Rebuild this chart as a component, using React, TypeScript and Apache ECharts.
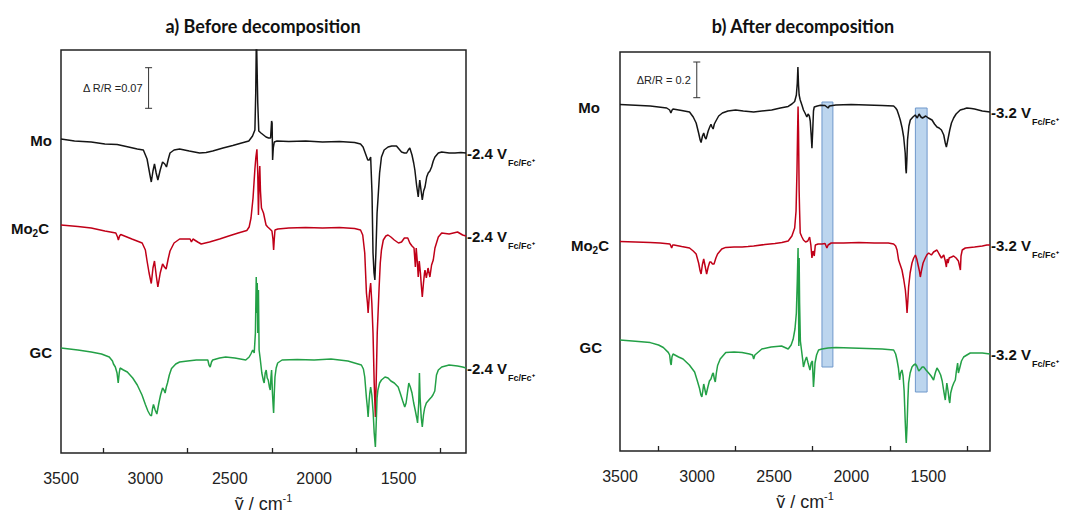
import React, { useEffect, useRef } from "react";
import * as echarts from "echarts";

// ---------- axis ticks ----------
const xLabelValues = [3500, 3000, 2500, 2000, 1500];
const xTickValues = [3250, 2750, 2250, 1750, 1250];
const xMin = 1100;
const xMax = 3500;

// ---------- traces: [wavenumber cm-1, signal (a.u., offset stacked)] ----------
const leftMo: number[][] = [[3500,314],[3420,312],[3321,311],[3240,309],[3167,308.5],[3100,306],[3048,304],[3012,303],[2990,294],[2975,280],[2965,271],[2955,282],[2946,289],[2936,280],[2926,273],[2912,283],[2898,291],[2885,289],[2875,286],[2864,294],[2854,300],[2830,303],[2797,304],[2740,302],[2679,300],[2640,300.5],[2601,302],[2540,305],[2482,307.5],[2430,310],[2387,312],[2365,317],[2351,323],[2346,360],[2342,420],[2338,420],[2334,350],[2328,322],[2315,320],[2300,318],[2285,316],[2270,315],[2258,315],[2252,332],[2249,330],[2246,293],[2242,305],[2236,311],[2220,312],[2150,311.5],[2050,312],[1950,311],[1850,311.5],[1760,310.5],[1725,309],[1710,306],[1695,299],[1682,293],[1673,293],[1665,296],[1657,260],[1651,200],[1645,180],[1640,173],[1634,200],[1627,240],[1622,253],[1612,280],[1601,296],[1585,303],[1562,306],[1540,307],[1512,307],[1497,304],[1482,301],[1465,300],[1452,300],[1442,303],[1433,305],[1420,298],[1410,290],[1403,283],[1393,268],[1383,256],[1378,266],[1374,273],[1366,262],[1359,253],[1351,262],[1343,266],[1333,276],[1324,280],[1314,282],[1304,286],[1294,292],[1284,296],[1264,300],[1244,301],[1200,300],[1165,300],[1130,300.5],[1100,300]];

const leftMo2C: number[][] = [[3500,228],[3400,226.5],[3321,225],[3240,222],[3175,220],[3165,216],[3160,213],[3153,217],[3146,218.5],[3080,214],[3019,210],[3000,203],[2990,192],[2978,180],[2965,169.5],[2955,185],[2946,192],[2936,178],[2926,166],[2912,180],[2898,189],[2887,186],[2877,184],[2865,194],[2854,202],[2830,210],[2797,214],[2760,214],[2735,214],[2727,211],[2718,214],[2690,211],[2669,209],[2645,210],[2620,211],[2560,214],[2506,217],[2450,220],[2399,222.5],[2385,226],[2374,235],[2362,255],[2351,284],[2345,296],[2339,303.6],[2334,280],[2330,238],[2326,270],[2322,287],[2318,262],[2312,245],[2300,240],[2285,228],[2275,226],[2262,224],[2250,222],[2244,214],[2240,203],[2236,214],[2232,223],[2215,224],[2150,225],[2050,225.5],[1950,225],[1850,225.5],[1760,224.5],[1725,223],[1712,218],[1700,200],[1690,160],[1684,150],[1680,140],[1672,160],[1665,170],[1658,150],[1651,120],[1644,70],[1637,36],[1631,80],[1626,120],[1622,136],[1615,165],[1608,190],[1601,203],[1590,213],[1575,217],[1562,218],[1545,216],[1525,213],[1500,210],[1482,211],[1465,215],[1445,215],[1433,210],[1420,207],[1408,205],[1400,186],[1395,205],[1388,190],[1383,176],[1377,192],[1370,180],[1365,168],[1359,156],[1352,170],[1346,180],[1343,183],[1335,175],[1325,185],[1314,176],[1304,188],[1294,193],[1284,205],[1264,216],[1244,220],[1200,219],[1150,221],[1120,218],[1100,217]];

const leftGC: number[][] = [[3500,105],[3400,103],[3321,101],[3260,99],[3214,96],[3195,92],[3189,89],[3178,86],[3168,80],[3161,70],[3155,80],[3150,85],[3130,83],[3107,81],[3075,75],[3048,68],[3020,58],[3000,48.5],[2985,42],[2972,38],[2964,37],[2958,44],[2952,48.5],[2942,43],[2932,39],[2920,50],[2910,58],[2898,65],[2890,63],[2883,60],[2876,66],[2869,70],[2858,78],[2845,84.5],[2820,89],[2797,91],[2750,92],[2698,93],[2660,93],[2630,93],[2623,88],[2616,86],[2608,91],[2601,93],[2560,95],[2524,96],[2470,95],[2405,93],[2385,96],[2375,99],[2364,103],[2355,100],[2348,120],[2343,176],[2340,140],[2337,170],[2334,120],[2330,163],[2326,103],[2320,95],[2310,80],[2300,72],[2296,70],[2290,80],[2284,83],[2278,75],[2272,73],[2265,66],[2260,63],[2256,75],[2252,83],[2247,60],[2242,45],[2240,40],[2236,60],[2232,76],[2225,85],[2216,90],[2190,93],[2100,93.5],[2000,93],[1900,94],[1800,92],[1760,90],[1720,88],[1708,84],[1700,76],[1690,55],[1684,45],[1680,36],[1674,52],[1670,60],[1665,66],[1658,58],[1650,40],[1644,20],[1637,6],[1632,30],[1627,55],[1622,63],[1612,70],[1601,73],[1580,76],[1562,75],[1545,72],[1525,70],[1502,66],[1490,60],[1475,52],[1463,46],[1455,50],[1447,60],[1439,70],[1430,66],[1420,60],[1410,50],[1400,42],[1392,35],[1387,30],[1380,50],[1376,80],[1372,55],[1365,35],[1359,26],[1352,38],[1345,45],[1335,50],[1325,52],[1315,54],[1304,56],[1296,58],[1285,62],[1275,78],[1264,83],[1244,86],[1200,88],[1150,87],[1120,86],[1100,85]];

const rightMo: number[][] = [[3500,346.6],[3400,345.8],[3304,345],[3250,344],[3197,343],[3178,341],[3170,338],[3162,341],[3156,342],[3100,340.5],[3049,339],[3025,334],[3006,328],[2990,318],[2980,311],[2974,308.5],[2965,315],[2957,318],[2950,314],[2942,312],[2928,320],[2918,324],[2910,326.6],[2903,324],[2896,322],[2888,327],[2878,330],[2860,335],[2836,338],[2800,340],[2750,341],[2700,340],[2633,339],[2580,340],[2516,341],[2460,343],[2409,344.6],[2385,347],[2367,349.5],[2356,356],[2350,368],[2346,384],[2342,366],[2338,356],[2331,351],[2320,346],[2310,341],[2300,338],[2288,334],[2280,337],[2272,335],[2266,330],[2260,316],[2255,302.7],[2250,320],[2245,340],[2240,344],[2220,345],[2200,345.7],[2170,345.5],[2158,344],[2150,343],[2142,345],[2100,346],[2000,346.5],[1900,346],[1800,345.5],[1725,345],[1712,343],[1703,341],[1692,336],[1682,331],[1670,323],[1660,314],[1650,298],[1646,282],[1643,277.7],[1639,292],[1635,311],[1626,325],[1617,331],[1600,334],[1585,336],[1572,333],[1560,337],[1548,334],[1538,333],[1527,334],[1517,335],[1500,333],[1476,331],[1460,327],[1444,324],[1430,323],[1415,321],[1400,316],[1390,308],[1383,304],[1375,310],[1361,321],[1350,328],[1336,333],[1320,337],[1293,341],[1270,342],[1250,343],[1220,342.5],[1200,342],[1150,340],[1100,339]];

const rightMo2C: number[][] = [[3500,209.5],[3400,209],[3304,208.5],[3240,208],[3176,207],[3170,205],[3165,203],[3158,206],[3150,206],[3100,204.5],[3049,203],[3025,200],[3006,197],[2990,188],[2980,180],[2974,177],[2966,186],[2957,192],[2948,185],[2938,177],[2928,184],[2918,189],[2910,189],[2900,187],[2890,187],[2878,193],[2867,197],[2840,202],[2814,203.6],[2760,204],[2708,204],[2670,204.5],[2633,205],[2560,206.5],[2495,207.5],[2450,208.5],[2409,210],[2385,215],[2367,223],[2358,240],[2352,280],[2348,320],[2345,344.6],[2342,320],[2338,260],[2335,240],[2331,218],[2320,214],[2310,211],[2296,209],[2282,210],[2270,214],[2262,206],[2255,193],[2248,200],[2240,195],[2233,206],[2215,207],[2190,207],[2170,207.5],[2158,203],[2150,206],[2130,208],[2050,208],[1950,208.5],[1850,208],[1760,208],[1725,207],[1712,205],[1703,201],[1693,191],[1682,186],[1671,181],[1660,172],[1649,161],[1643,150],[1638,138],[1633,150],[1628,164],[1618,178],[1606,188],[1595,193],[1584,196],[1575,192],[1565,185],[1558,180],[1552,174],[1545,180],[1534,188],[1520,193],[1510,196],[1498,198],[1480,196],[1466,199],[1444,201],[1430,197],[1415,193],[1400,196],[1390,190],[1383,184],[1378,192],[1372,188],[1365,193],[1350,194],[1336,195],[1320,193],[1305,190],[1296,184],[1292,181],[1288,195],[1280,201],[1260,203],[1230,203.5],[1200,204],[1150,205],[1120,206],[1100,206]];

const rightGC: number[][] = [[3500,111],[3400,109.8],[3304,108.4],[3250,106],[3219,103.5],[3187,98.6],[3178,96],[3172,88],[3168,86],[3163,94],[3156,97],[3120,94],[3091,92],[3050,86],[3016,79],[3000,71],[2984,62.5],[2975,56],[2969,54],[2963,60],[2957,67],[2950,62],[2942,56],[2930,64],[2920,70],[2910,72],[2900,77],[2895,78],[2888,72],[2882,69],[2875,78],[2867,85.5],[2850,92],[2814,98.6],[2760,99],[2708,98.6],[2660,97],[2640,96],[2633,92],[2625,96],[2580,102],[2520,104],[2452,105],[2409,102],[2390,106],[2377,111.7],[2365,122],[2356,138],[2350,170],[2345,203],[2342,150],[2340,105],[2338,193],[2335,148],[2330,110],[2322,100],[2314,90],[2310,84],[2300,90],[2290,94],[2280,88],[2268,81],[2260,88],[2252,90],[2248,75],[2245,64],[2240,75],[2235,88],[2225,96],[2212,101],[2190,102],[2150,103],[2100,103.5],[2000,103],[1900,102.5],[1800,102],[1725,101],[1712,97],[1703,91],[1694,83],[1686,71],[1680,78],[1671,81],[1664,75],[1657,60],[1650,30],[1645,12],[1643,8],[1638,25],[1633,50],[1628,68],[1618,78],[1606,84],[1595,86],[1584,87],[1575,85],[1562,80],[1550,82],[1540,84],[1530,84],[1515,81],[1498,78],[1482,75],[1466,71],[1455,78],[1444,83],[1432,80],[1420,76],[1410,70],[1400,60],[1390,51],[1385,60],[1380,68],[1372,60],[1366,52],[1361,48],[1355,58],[1345,64],[1335,68],[1325,71],[1318,80],[1310,88],[1305,78],[1298,82],[1285,90],[1271,94],[1250,96],[1228,98],[1200,98],[1150,98],[1100,97]];

// scale bars: [x, top, bottom]
const leftScaleBar = [[2981, 385.3, 344.7]];
const leftScaleText = "\u0394 R/R =0.07";
const rightScaleBar = [[3002, 389, 353.3]];
const rightScaleText = "\u0394R/R = 0.2";

// highlighted regions (right panel): [xFrom, yLow, xTo, yHigh]
const highlightBands = [[2190, 84, 2119, 349], [1584, 59, 1508, 343]];

const leftPotential = "-2.4 V";
const rightPotential = "-3.2 V";
const titles = ["a) Before decomposition", "b) After decomposition"];

const BLACK = "#151515";
const RED = "#c00018";
const GREEN = "#23a046";
const FONT = "Liberation Sans";
const TITLE_FONT = "Lato";

function potentialLabelPoint(trace: number[][], text: string) {
  const last = trace[trace.length - 1];
  return {
    symbol: "circle",
    symbolSize: 0,
    silent: true,
    itemStyle: { color: "rgba(0,0,0,0)" },
    label: {
      show: true,
      position: "right",
      distance: 1,
      formatter: `{v|${text}}{s|Fc/Fc\u207A}`,
      rich: {
        v: { fontSize: 15, fontWeight: "bold", fontFamily: FONT, color: "#111" },
        s: { fontSize: 9, fontWeight: "bold", fontFamily: FONT, color: "#111", padding: [20, 0, 0, 1] },
      },
    },
    data: [{ coord: [last[0], last[1]] }],
  };
}

function traceSeries(trace: number[][], color: string, idx: number, potential: string) {
  return {
    type: "line",
    xAxisIndex: idx,
    yAxisIndex: idx,
    data: trace,
    showSymbol: false,
    symbol: "none",
    clip: true,
    z: 3,
    silent: true,
    lineStyle: { color, width: 1.5 },
    markPoint: potentialLabelPoint(trace, potential),
  };
}

function scaleBarSeries(data: number[][], text: string, idx: number) {
  return {
    type: "custom",
    xAxisIndex: idx,
    yAxisIndex: idx,
    data,
    silent: true,
    z: 4,
    encode: { x: 0, y: [1, 2] },
    renderItem: (params: any, api: any) => {
      const top = api.coord([api.value(0), api.value(1)]);
      const bot = api.coord([api.value(0), api.value(2)]);
      const st = { stroke: "#333", lineWidth: 1 };
      return {
        type: "group",
        children: [
          { type: "line", shape: { x1: top[0], y1: top[1], x2: bot[0], y2: bot[1] }, style: st },
          { type: "line", shape: { x1: top[0] - 3.5, y1: top[1], x2: top[0] + 3.5, y2: top[1] }, style: st },
          { type: "line", shape: { x1: bot[0] - 3.5, y1: bot[1], x2: bot[0] + 3.5, y2: bot[1] }, style: st },
          {
            type: "text",
            x: top[0] - 6,
            y: (top[1] + bot[1]) / 2,
            style: { text, align: "right", verticalAlign: "middle", fontSize: 11, fontFamily: FONT, fill: "#222" },
          },
        ],
      };
    },
  };
}

function bandSeries() {
  return {
    type: "custom",
    xAxisIndex: 1,
    yAxisIndex: 1,
    data: highlightBands,
    silent: true,
    z: 1,
    encode: { x: [0, 2], y: [1, 3] },
    renderItem: (params: any, api: any) => {
      const p1 = api.coord([api.value(0), api.value(3)]);
      const p2 = api.coord([api.value(2), api.value(1)]);
      return {
        type: "rect",
        shape: { x: Math.min(p1[0], p2[0]), y: Math.min(p1[1], p2[1]), width: Math.abs(p2[0] - p1[0]), height: Math.abs(p2[1] - p1[1]) },
        style: { fill: "#bcd5ee", stroke: "#6f98cb", lineWidth: 1 },
      };
    },
  };
}

function xAxisDef(idx: number) {
  return {
    gridIndex: idx,
    type: "value",
    min: xMin,
    max: xMax,
    inverse: true,
    axisLine: { show: false },
    splitLine: { show: false },
    axisTick: { show: true, inside: true, length: 5, customValues: xTickValues, lineStyle: { color: "#222", width: 1.3 } },
    axisLabel: { customValues: xLabelValues, formatter: (v: number) => String(v), fontSize: 16, color: "#222", fontFamily: FONT, margin: 17 },
    name: "{a|\u1E7D / cm}{s|-1}",
    nameLocation: "middle",
    nameGap: 39,
    nameTextStyle: {
      rich: {
        a: { fontSize: 18, fontFamily: FONT, color: "#222" },
        s: { fontSize: 11, fontFamily: FONT, color: "#222", padding: [0, 0, 12, 0] },
      },
    },
  };
}

function yAxisDef(idx: number, max: number) {
  return { gridIndex: idx, type: "value", min: 0, max, show: false };
}

function nameLabel(x: number, y: number, sub: boolean, base: string) {
  const text = sub ? "{b|Mo}{s|2}{b|C}" : `{b|${base}}`;
  return {
    type: "text",
    x,
    y,
    silent: true,
    style: {
      text,
      align: "right",
      verticalAlign: "middle",
      rich: {
        b: { fontSize: 15, fontWeight: "bold", fontFamily: FONT, fill: "#111" },
        s: { fontSize: 10, fontWeight: "bold", fontFamily: FONT, fill: "#111", padding: [10, 0, 0, 0] },
      },
    },
  };
}

export default function App() {
  const ref = useRef<HTMLDivElement>(null);
  useEffect(() => {
    if (!ref.current) return;
    const chart = echarts.init(ref.current, null, { renderer: "svg" });
    const option: any = {
      animation: false,
      backgroundColor: "#ffffff",
      textStyle: { fontFamily: FONT },
      grid: [
        { left: 61, top: 50, width: 405, height: 403, show: true, borderColor: "#222", borderWidth: 1.5, backgroundColor: "transparent", containLabel: false, outerBoundsMode: "none" },
        { left: 620, top: 52, width: 370, height: 399, show: true, borderColor: "#222", borderWidth: 1.5, backgroundColor: "transparent", containLabel: false, outerBoundsMode: "none" },
      ],
      xAxis: [xAxisDef(0), xAxisDef(1)],
      yAxis: [yAxisDef(0, 403), yAxisDef(1, 399)],
      series: [
        traceSeries(leftMo, BLACK, 0, leftPotential),
        traceSeries(leftMo2C, RED, 0, leftPotential),
        traceSeries(leftGC, GREEN, 0, leftPotential),
        bandSeries(),
        traceSeries(rightMo, BLACK, 1, rightPotential),
        traceSeries(rightMo2C, RED, 1, rightPotential),
        traceSeries(rightGC, GREEN, 1, rightPotential),
        scaleBarSeries(leftScaleBar, leftScaleText, 0),
        scaleBarSeries(rightScaleBar, rightScaleText, 1),
      ],
      graphic: [
        { type: "text", x: 263, y: 26, silent: true, style: { text: titles[0], align: "center", verticalAlign: "middle", fontSize: 18, fontWeight: "bold", fontFamily: TITLE_FONT, fill: "#111" } },
        { type: "text", x: 803, y: 26, silent: true, style: { text: titles[1], align: "center", verticalAlign: "middle", fontSize: 18, fontWeight: "bold", fontFamily: TITLE_FONT, fill: "#111" } },
        nameLabel(52, 140, false, "Mo"),
        nameLabel(49, 228, true, ""),
        nameLabel(52, 352, false, "GC"),
        nameLabel(600, 107, false, "Mo"),
        nameLabel(609, 245, true, ""),
        nameLabel(602, 347, false, "GC"),
      ],
    };
    chart.setOption(option);
    return () => chart.dispose();
  }, []);
  return <div ref={ref} style={{ position: "fixed", left: 0, top: 0, width: 1075, height: 516, background: "#fff" }} />;
}
